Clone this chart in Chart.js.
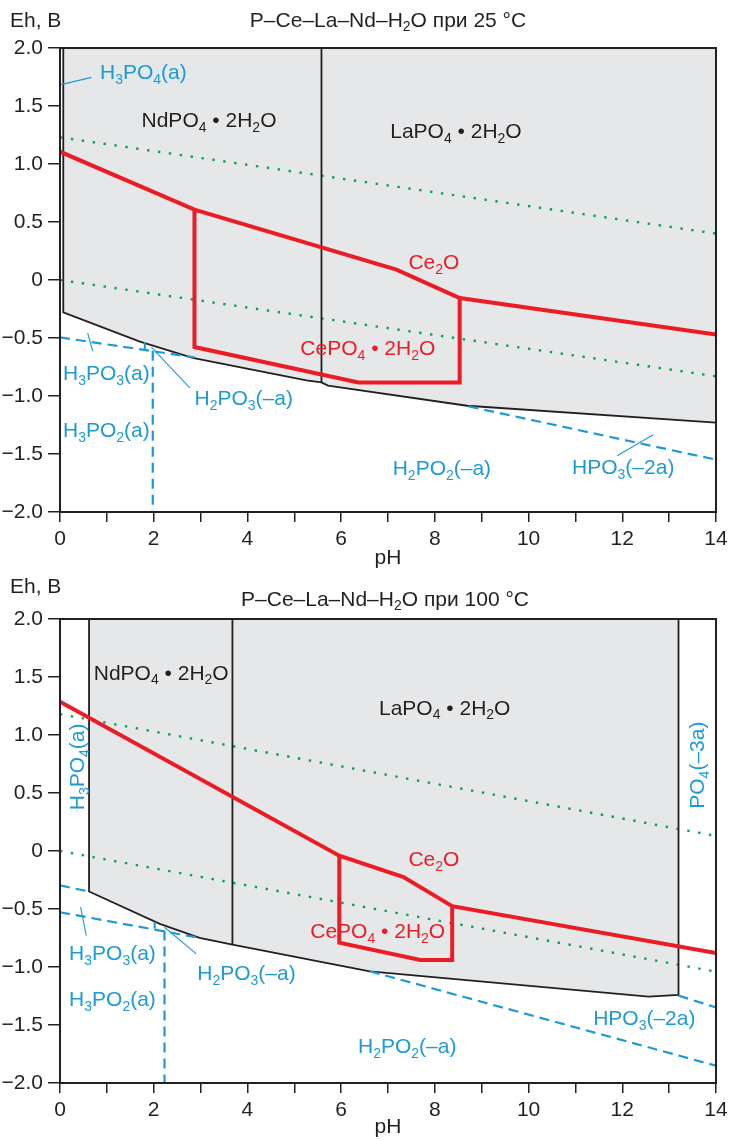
<!DOCTYPE html>
<html>
<head>
<meta charset="utf-8">
<script src="https://cdn.jsdelivr.net/npm/chart.js@4.4.1/dist/chart.umd.min.js"></script>
<style>
  body { margin: 0; background: #fff; }
  canvas { display: block; }
</style>
</head>
<body>
<canvas id="chart25" width="740" height="571"></canvas>
<canvas id="chart100" width="740" height="569"></canvas>
<script>
// axes
const phRange = [0, 14];
const ehRange = [-2, 2];
const phTickLabels = ['0', '', '2', '', '4', '', '6', '', '8', '', '10', '', '12', '', '14'];
const ehTickLabels = ['−2.0', '−1.5', '−1.0', '−0.5', '0', '0.5', '1.0', '1.5', '2.0'];

// ---- 25 °C : [pH, Eh] ----
const field25 = [[0.07, 2.0], [14, 2.0], [14, -1.23], [8.69, -1.084], [5.72, -0.911], [5.58, -0.883], [5.26, -0.866], [2.83, -0.672], [1.69, -0.529], [0.07, -0.279]];
const edge25 = [[0.07, 2.0], [0.07, -0.279], [1.69, -0.529], [2.83, -0.672], [5.26, -0.866], [5.58, -0.883], [5.72, -0.911], [8.69, -1.084], [14, -1.23]];
const ndLa25 = [[5.58, 2.0], [5.58, -0.883]];
const ceUpper25 = [[0, 1.106], [2.87, 0.606], [7.18, 0.089], [8.53, -0.155], [14, -0.471]];
const cePO4_25 = [[2.87, 0.606], [2.87, -0.578], [6.37, -0.883], [8.53, -0.883], [8.53, -0.155]];
const waterO2_25 = [[0, 1.23], [14, 0.40]];
const waterH2_25 = [[0, 0], [14, -0.83]];
const pDash25 = [
  [[0, -0.495], [2.87, -0.667]],
  [[1.98, -0.61], [1.98, -2.0]],
  [[8.72, -1.09], [14, -1.549]]
];
const pTick25 = [[1.81, -0.535], [1.81, -0.595]];
const leaders25 = [
  [[0.02, 1.684], [0.67, 1.747]],
  [[0.59, -0.457], [0.70, -0.616]],
  [[1.95, -0.578], [2.77, -0.931]],
  [[11.89, -1.515], [12.66, -1.334]]
];

// ---- 100 °C : [pH, Eh] ----
const field100 = [[0.62, 2.0], [13.2, 2.0], [13.2, -1.24], [12.56, -1.256], [6.61, -1.037], [3.68, -0.807], [2.98, -0.749], [2.13, -0.628], [0.62, -0.349]];
const edge100 = [[0.62, 2.0], [0.62, -0.349], [2.13, -0.628], [2.98, -0.749], [3.68, -0.807], [6.61, -1.037], [12.56, -1.256], [13.2, -1.24], [13.2, 2.0]];
const ndLa100 = [[3.68, 2.0], [3.68, -0.807]];
const ceUpper100 = [[0, 1.286], [5.96, -0.04], [7.33, -0.225], [8.37, -0.476], [14, -0.88]];
const cePO4_100 = [[5.96, -0.04], [5.96, -0.79], [7.69, -0.939], [8.37, -0.939], [8.37, -0.476]];
const waterO2_100 = [[0, 1.18], [14, 0.13]];
const waterH2_100 = [[0, 0], [14, -1.04]];
const pDash100 = [
  [[0, -0.297], [0.62, -0.349]],
  [[0, -0.528], [2.98, -0.749]],
  [[2.23, -0.686], [2.23, -2.0]],
  [[6.61, -1.037], [14, -1.851]],
  [[13.2, -1.247], [14, -1.348]]
];
const pTick100 = [[2.02, -0.61], [2.02, -0.67]];
const leaders100 = [
  [[0.44, -0.484], [0.56, -0.729]],
  [[2.23, -0.657], [2.91, -0.887]]
];

const INK = '#231f20', RED = '#ec1c24', BLUE = '#1c9ad6', GREEN = '#00a651', FIELD = '#e6e7e8';
const FONT = "'Liberation Sans', Arial, sans-serif";

const labels25 = [
  { t: 'H_3PO_4(a)', x: 1.78, y: 1.796, c: BLUE },
  { t: 'NdPO_4 • 2H_2O', x: 3.18, y: 1.381, c: INK },
  { t: 'LaPO_4 • 2H_2O', x: 8.45, y: 1.287, c: INK },
  { t: 'Ce_2O', x: 7.98, y: 0.158, c: RED },
  { t: 'CePO_4 • 2H_2O', x: 6.57, y: -0.584, c: RED },
  { t: 'H_3PO_3(a)', x: 0.99, y: -0.80, c: BLUE },
  { t: 'H_2PO_3(–a)', x: 3.92, y: -1.015, c: BLUE },
  { t: 'H_3PO_2(a)', x: 0.99, y: -1.29, c: BLUE },
  { t: 'H_2PO_2(–a)', x: 8.15, y: -1.618, c: BLUE },
  { t: 'HPO_3(–2a)', x: 12.02, y: -1.609, c: BLUE }
];
const labels100 = [
  { t: 'NdPO_4 • 2H_2O', x: 2.16, y: 1.542, c: INK },
  { t: 'LaPO_4 • 2H_2O', x: 8.21, y: 1.24, c: INK },
  { t: 'Ce_2O', x: 7.98, y: -0.064, c: RED },
  { t: 'CePO_4 • 2H_2O', x: 6.78, y: -0.686, c: RED },
  { t: 'H_3PO_3(a)', x: 1.12, y: -0.876, c: BLUE },
  { t: 'H_2PO_3(–a)', x: 3.98, y: -1.048, c: BLUE },
  { t: 'H_3PO_2(a)', x: 1.12, y: -1.273, c: BLUE },
  { t: 'H_2PO_2(–a)', x: 7.41, y: -1.679, c: BLUE },
  { t: 'HPO_3(–2a)', x: 12.47, y: -1.437, c: BLUE },
  { t: 'H_3PO_4(a)', x: 0.35, y: 0.725, c: BLUE, r: true },
  { t: 'PO_4(–3a)', x: 13.58, y: 0.74, c: BLUE, r: true }
];

Chart.defaults.font.family = FONT;
Chart.defaults.font.size = 21;
Chart.defaults.color = INK;

function pts(list) {
  return list.map(p => ({ x: p[0], y: p[1] }));
}

function line(list, color, width, dash, order) {
  return {
    data: pts(list),
    showLine: true,
    pointRadius: 0,
    pointHoverRadius: 0,
    borderColor: color,
    borderWidth: width,
    borderDash: dash || [],
    borderCapStyle: 'butt',
    borderJoinStyle: 'miter',
    fill: false,
    tension: 0,
    order: order
  };
}

function area(list) {
  return {
    data: pts(list),
    showLine: true,
    pointRadius: 0,
    borderColor: 'rgba(0,0,0,0)',
    borderWidth: 1,
    backgroundColor: FIELD,
    fill: 'shape',
    tension: 0,
    order: 20
  };
}

// "_x" makes x a subscript
function richParts(str) {
    const out = [];
    for (let i = 0; i < str.length; i++) {
        if (str[i] === '_') {
            out.push({ t: str[i + 1], sub: true });
            i++;
        } else {
            const last = out[out.length - 1];
            if (last && !last.sub) last.t += str[i];
            else out.push({ t: str[i], sub: false });
        }
    }
    return out;
}

function drawRich(ctx, str, x, y, opts) {
    const size = opts.size || 21;
    const subSize = Math.round(size * 0.68);
    const parts = richParts(str);
    const widths = parts.map(p => {
        ctx.font = (p.sub ? subSize : size) + 'px ' + FONT;
        return ctx.measureText(p.t).width;
    });
    const total = widths.reduce((a, b) => a + b, 0);
    ctx.save();
    ctx.translate(x, y);
    if (opts.rotate) ctx.rotate(-Math.PI / 2);
    ctx.fillStyle = opts.color || INK;
    ctx.textAlign = 'left';
    ctx.textBaseline = 'alphabetic';
    let cx = opts.align === 'left' ? 0 : -total / 2;
    const base = size * 0.36;
    parts.forEach((p, i) => {
        ctx.font = (p.sub ? subSize : size) + 'px ' + FONT;
        ctx.fillText(p.t, cx, p.sub ? base + size * 0.22 : base);
        cx += widths[i];
    });
    ctx.restore();
}

function textLayer(labels, head) {
    return {
        id: 'textLayer',
        afterDatasetsDraw(chart) {
            const { ctx, scales: { x, y } } = chart;
            labels.forEach(l => {
                drawRich(ctx, l.t, x.getPixelForValue(l.x), y.getPixelForValue(l.y), { color: l.c, rotate: l.r });
            });
        },
        afterDraw(chart) {
            const { ctx, chartArea: a } = chart;
            ctx.save();
            ctx.strokeStyle = INK;
            ctx.lineWidth = 2;
            ctx.strokeRect(a.left, a.top, a.right - a.left, a.bottom - a.top);
            ctx.restore();
            drawRich(ctx, 'Eh, B', 10, head.unitY, { align: 'left' });
            drawRich(ctx, head.title, head.titleX, head.titleY, {});
        }
    };
}

function buildDatasets(d) {
    const sets = [];
    sets.push(area(d.field));
    sets.push(line(d.waterO2, GREEN, 2.4, [2.4, 8.6], 6));
    sets.push(line(d.waterH2, GREEN, 2.4, [2.4, 8.6], 6));
    sets.push(line(d.edge, INK, 1.8, [], 4));
    sets.push(line(d.ndLa, INK, 1.8, [], 4));
    d.dash.forEach(s => sets.push(line(s, BLUE, 2.2, [10, 6], 3)));
    sets.push(line(d.tick, BLUE, 2, [], 3));
    d.leaders.forEach(s => sets.push(line(s, BLUE, 1.1, [], 3)));
    sets.push(line(d.ceUpper, RED, 4, [], 1));
    sets.push(line(d.cePO4, RED, 4, [], 1));
    return sets;
}

function makeChart(id, d, labels, head) {
    const canvas = document.getElementById(id);
    const h = canvas.height;
    return new Chart(canvas, {
        type: 'scatter',
        data: { datasets: buildDatasets(d) },
        options: {
            responsive: false,
            animation: false,
            events: [],
            layout: { padding: { top: 48, right: 24, bottom: 0, left: 0 } },
            scales: {
                x: {
                    type: 'linear',
                    min: phRange[0],
                    max: phRange[1],
                    afterFit: s => { s.height = h - 512; },
                    ticks: {
                        stepSize: 1,
                        autoSkip: false,
                        maxRotation: 0,
                        padding: 5,
                        callback: (v, i) => phTickLabels[i]
                    },
                    grid: { drawOnChartArea: false, tickLength: 10, color: INK, lineWidth: 1.5 },
                    border: { display: false },
                    title: { display: true, text: 'pH', padding: 0, color: INK }
                },
                y: {
                    type: 'linear',
                    min: ehRange[0],
                    max: ehRange[1],
                    afterFit: s => { s.width = 60; },
                    ticks: {
                        stepSize: 0.5,
                        autoSkip: false,
                        padding: 5,
                        callback: (v, i) => ehTickLabels[i]
                    },
                    grid: { drawOnChartArea: false, tickLength: 12, color: INK, lineWidth: 1.5 },
                    border: { display: false }
                }
            },
            plugins: {
                legend: { display: false },
                tooltip: { enabled: false }
            }
        },
        plugins: [textLayer(labels, head)]
    });
}

makeChart('chart25', {
    field: field25, edge: edge25, ndLa: ndLa25,
    ceUpper: ceUpper25, cePO4: cePO4_25,
    waterO2: waterO2_25, waterH2: waterH2_25,
    dash: pDash25, tick: pTick25, leaders: leaders25
}, labels25, { title: 'P–Ce–La–Nd–H_2O при 25 °C', titleX: 388, titleY: 19, unitY: 19 });

makeChart('chart100', {
    field: field100, edge: edge100, ndLa: ndLa100,
    ceUpper: ceUpper100, cePO4: cePO4_100,
    waterO2: waterO2_100, waterH2: waterH2_100,
    dash: pDash100, tick: pTick100, leaders: leaders100
}, labels100, { title: 'P–Ce–La–Nd–H_2O при 100 °C', titleX: 385, titleY: 27, unitY: 14 });
</script>
</body>
</html>
